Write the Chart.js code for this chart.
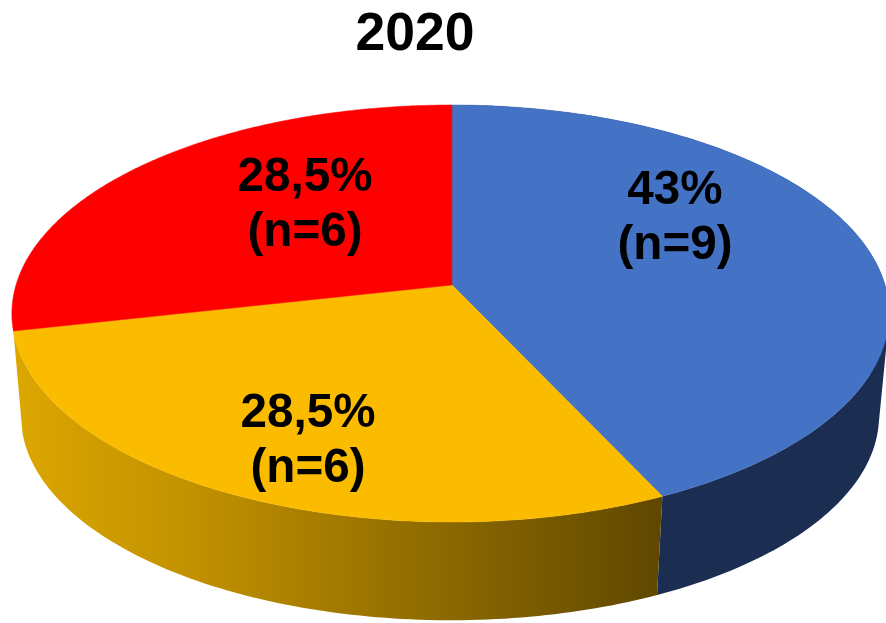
<!DOCTYPE html>
<html>
<head>
<meta charset="utf-8">
<style>
  html, body { margin: 0; padding: 0; background: #fff; overflow: hidden; }
  canvas { display: block; }
</style>
<script src="https://cdn.jsdelivr.net/npm/chart.js@4"></script>
</head>
<body>
<canvas id="pie" width="886" height="623"></canvas>
<script>
const chartTitle = '2020';
const categories = ['A', 'B', 'C'];
const percents = [43, 28.5, 28.5];
const counts = [9, 6, 6];
const percentLabels = ['43%', '28,5%', '28,5%'];

const topColors = ['#4472C4', '#FBBC00', '#FF0000'];
const wallBlue = '#1B2D50';

// where each label sits (center x, first baseline y)
const labelSpots = [[675, 204], [308, 427], [305, 191]];
const labelLineGap = 55;

// the pie is lying down, seen in perspective: unit circle -> screen
const k = 0.1367;
const topFace = { x: 452, y: 285, right: 433, left: 436, b: 204.6 };
const bottomFace = { x: 451, y: 388, right: 424, left: 426, b: 200.5 };

function project(face, ang) {
    const u = Math.cos(ang), v = Math.sin(ang);
    const w = 1 - k * v;
    const a = u > 0 ? face.right : face.left;
    return [face.x + a * u / w, face.y + face.b * v / w];
}

function signedArea(p) {
    let sum = 0;
    p.forEach((q, i) => {
        const r = p[(i + 1) % p.length];
        sum += q[0] * r[1] - r[0] * q[1];
    });
    return sum;
}

const steps = ang => Math.max(2, Math.ceil(ang / (Math.PI / 180)));

const pie3d = {
    id: 'pie3d',
    beforeDatasetsDraw(chart) {
        const ctx = chart.ctx;
        const arcs = chart.getDatasetMeta(0).data;

        const goldGrad = ctx.createLinearGradient(14, 0, 663, 0);
        goldGrad.addColorStop(0, '#DDA700');
        goldGrad.addColorStop(0.287, '#C09000');
        goldGrad.addColorStop(0.749, '#806000');
        goldGrad.addColorStop(1, '#5F4700');
        // the red slice is at the back, its wall never shows
        const walls = [wallBlue, goldGrad, null];

        // side wall first, one path per slice so no seams
        arcs.forEach((arc, i) => {
            if (!walls[i]) return;
            const n = steps(arc.endAngle - arc.startAngle);
            ctx.fillStyle = walls[i];
            ctx.beginPath();
            for (let s = 0; s < n; s++) {
                const a0 = arc.startAngle + (arc.endAngle - arc.startAngle) * s / n;
                const a1 = arc.startAngle + (arc.endAngle - arc.startAngle) * (s + 1) / n;
                const p = [project(topFace, a0), project(topFace, a1), project(bottomFace, a1), project(bottomFace, a0)];
                // all quads same way round, otherwise they cancel where they overlap
                if (signedArea(p) < 0) p.reverse();
                ctx.moveTo(p[0][0], p[0][1]);
                p.slice(1).forEach(q => ctx.lineTo(q[0], q[1]));
                ctx.closePath();
            }
            ctx.fill();
        });

        // top face
        arcs.forEach((arc, i) => {
            const n = steps(arc.endAngle - arc.startAngle) * 2;
            ctx.fillStyle = arc.options.backgroundColor;
            ctx.strokeStyle = arc.options.backgroundColor;
            ctx.lineWidth = 0.5;
            ctx.beginPath();
            ctx.moveTo(topFace.x, topFace.y);
            for (let s = 0; s <= n; s++) {
                const p = project(topFace, arc.startAngle + (arc.endAngle - arc.startAngle) * s / n);
                ctx.lineTo(p[0], p[1]);
            }
            ctx.closePath();
            ctx.fill();
            ctx.stroke();
        });

        // texts
        ctx.fillStyle = '#000';
        ctx.textAlign = 'center';
        ctx.textBaseline = 'alphabetic';
        ctx.font = 'bold 53.5px "Liberation Sans"';
        ctx.fillText(chartTitle, 415, 50);
        ctx.font = 'bold 47.6px "Liberation Sans"';
        percentLabels.forEach((txt, i) => {
            ctx.fillText(txt, labelSpots[i][0], labelSpots[i][1]);
            ctx.fillText('(n=' + counts[i] + ')', labelSpots[i][0], labelSpots[i][1] + labelLineGap);
        });
        return false;
    }
};

new Chart(document.getElementById('pie'), {
    type: 'pie',
    data: {
        labels: categories,
        datasets: [{ data: percents, backgroundColor: topColors, borderWidth: 0 }]
    },
    options: {
        responsive: false,
        animation: false,
        plugins: { legend: { display: false }, tooltip: { enabled: false } }
    },
    plugins: [pie3d]
});
</script>
</body>
</html>
